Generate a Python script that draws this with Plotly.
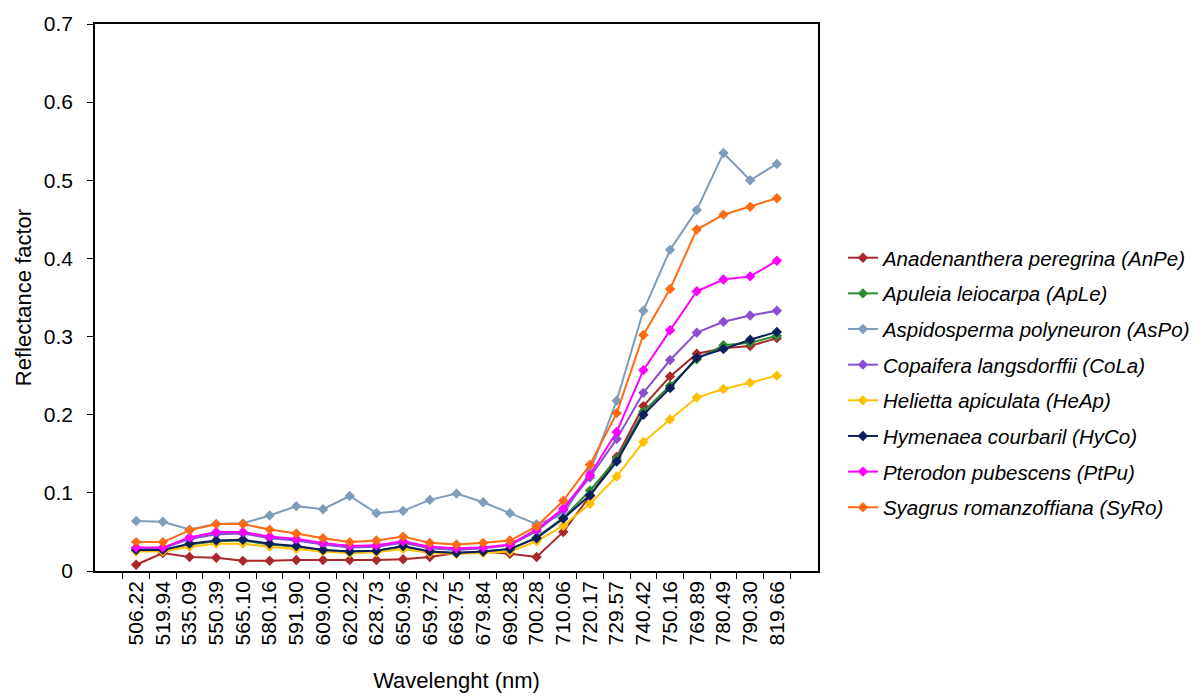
import plotly.graph_objects as go

wavelengths = ["506.22", "519.94", "535.09", "550.39", "565.10", "580.16", "591.90", "609.00",
               "620.22", "628.73", "650.96", "659.72", "669.75", "679.84", "690.28", "700.28",
               "710.06", "720.17", "729.57", "740.42", "750.16", "769.89", "780.49", "790.30", "819.66"]

AnPe = [0.008, 0.023, 0.018, 0.017, 0.013, 0.013, 0.014, 0.014, 0.014, 0.014, 0.015, 0.018, 0.023,
        0.025, 0.022, 0.018, 0.050, 0.096, 0.146, 0.211, 0.249, 0.278, 0.285, 0.288, 0.298]
ApLe = [0.027, 0.027, 0.034, 0.038, 0.039, 0.034, 0.031, 0.027, 0.025, 0.026, 0.031, 0.025, 0.023,
        0.025, 0.028, 0.043, 0.068, 0.103, 0.143, 0.204, 0.237, 0.271, 0.289, 0.292, 0.301]
AsPo = [0.064, 0.063, 0.053, 0.060, 0.061, 0.071, 0.083, 0.079, 0.096, 0.074, 0.077, 0.091, 0.099,
        0.088, 0.074, 0.060, 0.072, 0.127, 0.218, 0.333, 0.411, 0.462, 0.535, 0.500, 0.521]
CoLa = [0.029, 0.029, 0.041, 0.047, 0.048, 0.042, 0.039, 0.034, 0.030, 0.031, 0.036, 0.029, 0.027,
        0.029, 0.033, 0.051, 0.078, 0.120, 0.169, 0.228, 0.270, 0.305, 0.319, 0.327, 0.333]
HeAp = [0.025, 0.025, 0.031, 0.035, 0.035, 0.031, 0.028, 0.025, 0.023, 0.024, 0.028, 0.023, 0.022,
        0.023, 0.025, 0.038, 0.058, 0.086, 0.121, 0.165, 0.194, 0.222, 0.233, 0.241, 0.250]
HyCo = [0.027, 0.027, 0.035, 0.039, 0.040, 0.035, 0.032, 0.027, 0.025, 0.026, 0.032, 0.025, 0.023,
        0.025, 0.028, 0.042, 0.067, 0.097, 0.140, 0.200, 0.234, 0.273, 0.284, 0.296, 0.306]
PtPu = [0.030, 0.030, 0.043, 0.050, 0.050, 0.044, 0.041, 0.036, 0.032, 0.033, 0.038, 0.031, 0.029,
        0.030, 0.034, 0.053, 0.080, 0.123, 0.178, 0.257, 0.308, 0.358, 0.373, 0.377, 0.397]
SyRo = [0.037, 0.037, 0.052, 0.060, 0.060, 0.053, 0.048, 0.042, 0.037, 0.039, 0.044, 0.036, 0.034,
        0.036, 0.039, 0.057, 0.090, 0.136, 0.202, 0.302, 0.361, 0.437, 0.456, 0.466, 0.477]

names = ["Anadenanthera peregrina (AnPe)", "Apuleia leiocarpa (ApLe)",
         "Aspidosperma polyneuron (AsPo)", "Copaifera langsdorffii (CoLa)",
         "Helietta apiculata (HeAp)", "Hymenaea courbaril (HyCo)",
         "Pterodon pubescens (PtPu)", "Syagrus romanzoffiana (SyRo)"]
series = [AnPe, ApLe, AsPo, CoLa, HeAp, HyCo, PtPu, SyRo]
colors = ["#A8282B", "#2E8B2E", "#7F9CBA", "#8A4FD0", "#FFC000", "#0A1F5C", "#FF00FF", "#FF6A13"]

FONT = "Arial, Liberation Sans, sans-serif"
TICK_SIZE = 21
TITLE_SIZE = 22
LEGEND_SIZE = 20.5

fig = go.Figure()
for i, (nm, ys, c) in enumerate(zip(names, series, colors)):
    fig.add_trace(go.Scatter(
        x=wavelengths, y=ys, name=nm, mode="lines+markers",
        line=dict(color=c, width=2),
        marker=dict(symbol="diamond", size=8, color=c),
        legendgroup=f"g{i}",
    ))

fig.update_layout(
    width=1215, height=698, autosize=False,
    margin=dict(l=87, r=405, t=16, b=135, autoexpand=False),
    paper_bgcolor="white", plot_bgcolor="white",
    font=dict(family=FONT, size=TICK_SIZE, color="#000000"),
    showlegend=True,
    legend=dict(
        x=1.0345, xanchor="left", y=0.609, yanchor="top",
        font=dict(family=FONT, size=LEGEND_SIZE, color="#000000", style="italic"),
        tracegroupgap=6, bgcolor="rgba(0,0,0,0)",
    ),
)
fig.update_xaxes(
    type="category", tickangle=-90, tickson="boundaries",
    ticks="outside", ticklen=6, tickcolor="black", tickwidth=1,
    showline=True, linecolor="black", linewidth=1.5, mirror=True,
    showgrid=False, zeroline=False,
    tickfont=dict(family=FONT, size=TICK_SIZE, color="#000000"),
    title=dict(text="Wavelenght (nm)", font=dict(family=FONT, size=TITLE_SIZE, color="#000000"), standoff=28),
)
fig.update_yaxes(
    range=[0, 0.7], dtick=0.1, tick0=0,
    ticks="outside", ticklen=6, tickcolor="black", tickwidth=1,
    showline=True, linecolor="black", linewidth=1.5, mirror=True,
    showgrid=False, zeroline=False, ticklabelstandoff=10,
    tickfont=dict(family=FONT, size=TICK_SIZE, color="#000000"),
    title=dict(text="Reflectance factor", font=dict(family=FONT, size=TITLE_SIZE, color="#000000"), standoff=6),
)

fig.write_html("out.html")
